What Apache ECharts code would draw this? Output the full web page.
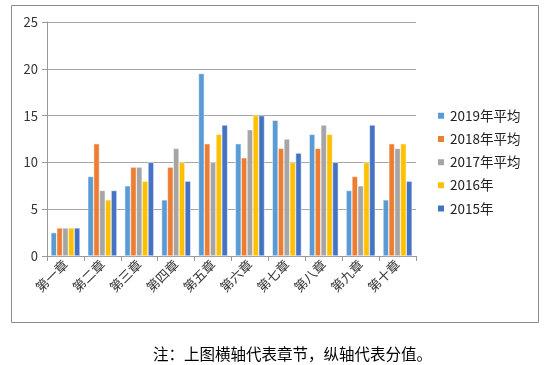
<!DOCTYPE html>
<html><head><meta charset="utf-8">
<script src="https://cdn.jsdelivr.net/npm/echarts@6/dist/echarts.min.js"></script>
<style>html,body{margin:0;padding:0;background:#fff}#c{width:545px;height:365px}</style>
</head><body><div id="c"></div>
<script>
var categories = ['第一章','第二章','第三章','第四章','第五章','第六章','第七章','第八章','第九章','第十章'];
var seriesNames = ['2019年平均','2018年平均','2017年平均','2016年','2015年'];
var s2019 = [2.5, 8.5, 7.5, 6, 19.5, 12, 14.5, 13, 7, 6];
var s2018 = [3, 12, 9.5, 9.5, 12, 10.5, 11.5, 11.5, 8.5, 12];
var s2017 = [3, 7, 9.5, 11.5, 10, 13.5, 12.5, 14, 7.5, 11.5];
var s2016 = [3, 6, 8, 10, 13, 15, 10, 13, 10, 12];
var s2015 = [3, 7, 10, 8, 14, 15, 11, 10, 14, 8];
var yTicks = [0, 5, 10, 15, 20, 25];
var colors = ['#5B9BD5','#ED7D31','#A5A5A5','#FFC000','#4472C4'];
var caption = '注：上图横轴代表章节，纵轴代表分值。';

var font = '"Noto Sans CJK SC", "Noto Sans", sans-serif';
var data = [s2019, s2018, s2017, s2016, s2015];
var chart = echarts.init(document.getElementById('c'), null, {renderer:'canvas'});
chart.setOption({
  animation: false,
  color: colors,
  textStyle: {fontFamily: font},
  graphic: [
    {type:'rect', shape:{x:11.5, y:5.5, width:527, height:317}, style:{fill:'none', stroke:'#8c8c8c', lineWidth:1}, z:-1},
    {type:'text', left:153, top:346, style:{text: caption, font:'15.5px ' + font, fill:'#000'}}
  ],
  legend: {
    orient:'vertical', left:436, top:109, padding:0, itemWidth:8, itemHeight:8, itemGap:9.7,
    icon:'rect',
    textStyle:{fontSize:13.5, color:'#222', fontFamily: font},
    data: seriesNames
  },
  grid: {left:47, right:129, top:22, bottom:109, containLabel:false},
  xAxis: {
    type:'category', data: categories,
    axisLine:{lineStyle:{color:'#999'}},
    axisTick:{show:true, length:5, lineStyle:{color:'#999'}},
    axisLabel:{rotate:45, fontSize:13, color:'#333', margin:6, fontFamily: font}
  },
  yAxis: {
    type:'value', min:yTicks[0], max:yTicks[yTicks.length-1], interval:5,
    axisLine:{show:true, lineStyle:{color:'#999'}},
    axisTick:{show:true, length:5, lineStyle:{color:'#999'}},
    axisLabel:{fontSize:13, color:'#333', margin:9},
    splitLine:{lineStyle:{color:'#a6a6a6'}}
  },
  series: seriesNames.map(function(n, i){
    return {name:n, type:'bar', data:data[i], barGap:'0%', barCategoryGap:'21%',
      itemStyle:{borderColor:'#fff', borderWidth:0.5}};
  })
});
</script></body></html>
